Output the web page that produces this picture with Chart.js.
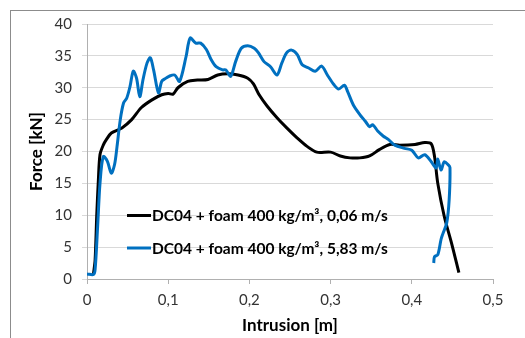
<!DOCTYPE html>
<html><head><meta charset="utf-8">
<script src="https://cdn.jsdelivr.net/npm/chart.js@4"></script>
<style>html,body{margin:0;padding:0;background:#fff;overflow:hidden}#wrap{position:relative;width:525px;height:338px}</style>
</head><body><div id="wrap"><canvas id="c" width="525" height="338"></canvas></div>
<script>
// ---- data ----
const seriesNames = ["DC04 + foam 400 kg/m³, 0,06 m/s", "DC04 + foam 400 kg/m³, 5,83 m/s"];
const xTickValues = [0, 0.1, 0.2, 0.3, 0.4, 0.5];
const yTickValues = [0, 5, 10, 15, 20, 25, 30, 35, 40];

const slowX = [0.008,0.010,0.012,0.014,0.016,0.020,0.024,0.030,0.043,0.055,0.067,0.080,0.092,0.100,0.106,0.112,0.124,0.136,0.149,0.161,0.173,0.186,0.198,0.205,0.212,0.222,0.234,0.246,0.259,0.271,0.283,0.300,0.312,0.324,0.336,0.348,0.360,0.373,0.385,0.404,0.416,0.424,0.428,0.432,0.440,0.449,0.458];
const slowY = [0.8,3,10,15.5,19.5,21,21.9,22.9,23.7,25,26.9,28.1,28.9,29.1,29.0,30,31,31.2,31.3,32,32.2,32,31.5,30.6,28.9,27.1,25.3,23.7,22.1,20.8,19.9,19.9,19.3,19.0,19.0,19.3,20.3,21.1,21.0,21.1,21.4,21.2,19.2,15,9.8,5.6,1.0];

const fastX = [0,0.008,0.010,0.013,0.016,0.020,0.025,0.030,0.034,0.037,0.041,0.045,0.049,0.053,0.057,0.061,0.065,0.069,0.074,0.078,0.082,0.088,0.092,0.096,0.101,0.108,0.114,0.122,0.127,0.134,0.140,0.147,0.153,0.159,0.167,0.171,0.177,0.183,0.190,0.198,0.206,0.211,0.218,0.226,0.234,0.240,0.246,0.252,0.259,0.265,0.273,0.281,0.289,0.296,0.304,0.310,0.317,0.321,0.328,0.336,0.343,0.348,0.352,0.358,0.365,0.371,0.379,0.391,0.400,0.408,0.416,0.424,0.430,0.432,0.436,0.440,0.445,0.447,0.446,0.443,0.438,0.436,0.432,0.428,0.427];
const fastY = [0.8,0.7,1.5,8,15,19.2,18.5,16.6,18,20.8,25,27.6,28.4,30.2,32.6,31.5,28.6,31.3,33.9,34.7,32.8,29.2,31,31.4,31.8,32,31,34.9,37.8,37,37,36,34.4,33.3,32.8,32.8,31.8,34.1,36.2,36.6,36.2,35.5,34.1,33.3,32,33.9,35.5,35.9,35.2,33.6,33.1,32.6,33.4,32,30.5,29.8,30.4,29.4,27.3,25.8,24.7,23.9,24.2,23.2,22.4,21.9,21.0,20.5,20.2,19.0,19.5,18.4,17.4,18.8,17.1,18.4,17.9,17.5,12.4,8.8,7.0,6.2,3.8,3.5,2.5];

const colors = ["#000000", "#0070C0"];
const FONT = "Lato, 'Open Sans', sans-serif";

const toPts = (xs, ys) => xs.map((x, i) => ({x, y: ys[i]}));
const fmt = v => (Math.round(v * 10) / 10).toString().replace('.', ',');

const borderPlugin = {
  id: 'outerBorder',
  beforeDraw(chart) {
    const c = chart.ctx;
    c.save();
    c.strokeStyle = '#8c8c8c';
    c.lineWidth = 1;
    c.strokeRect(10.5, 10.5, 620, 420);
    c.restore();
  }
};

const legendPlugin = {
  id: 'innerLegend',
  afterDatasetsDraw(chart) {
    const c = chart.ctx, a = chart.chartArea;
    const x0 = a.left + 40, lineLen = 24, rows = [a.top + 191.5, a.top + 224];
    c.save();
    c.font = "bold 15.5px " + FONT;
    c.textBaseline = 'middle';
    c.textAlign = 'left';
    seriesNames.forEach((name, i) => {
      c.strokeStyle = colors[i];
      c.lineWidth = 3;
      c.beginPath();
      c.moveTo(x0, rows[i]);
      c.lineTo(x0 + lineLen, rows[i]);
      c.stroke();
      c.fillStyle = '#000';
      c.fillText(name, x0 + lineLen + 1, rows[i] + 0.5);
    });
    c.restore();
  }
};

new Chart(document.getElementById('c'), {
  type: 'scatter',
  data: {
    datasets: [
      { label: seriesNames[0], data: toPts(slowX, slowY), showLine: true, borderColor: colors[0], backgroundColor: colors[0], borderWidth: 3, pointRadius: 0, tension: 0.3, order: 1 },
      { label: seriesNames[1], data: toPts(fastX, fastY), showLine: true, borderColor: colors[1], backgroundColor: colors[1], borderWidth: 3, pointRadius: 0, tension: 0.3, order: 0 }
    ]
  },
  options: {
    responsive: false,
    animation: false,
    layout: { padding: { top: 24, right: 32, left: 0, bottom: 0 } },
    plugins: { legend: { display: false }, tooltip: { enabled: false } },
    scales: {
      x: {
        type: 'linear', min: 0, max: 0.5,
        afterFit(s) { s.height = 59; },
        afterBuildTicks(s) { s.ticks = xTickValues.map(v => ({value: v})); },
        ticks: { callback: v => fmt(v), color: '#333', padding: 7, font: { family: FONT, size: 15 }, maxRotation: 0 },
        grid: { drawOnChartArea: false, drawTicks: true, tickLength: 5, tickColor: '#b0b0b0' },
        border: { display: true, color: '#b0b0b0' },
        title: { display: true, text: 'Intrusion [m]', color: '#000', font: { family: FONT, size: 17, weight: 'bold' }, padding: { top: 0, bottom: 2 } }
      },
      y: {
        type: 'linear', min: 0, max: 40,
        afterFit(s) { s.width = 87; },
        afterBuildTicks(s) { s.ticks = yTickValues.map(v => ({value: v})); },
        ticks: { callback: v => fmt(v), color: '#333', padding: 10, font: { family: FONT, size: 15 } },
        grid: { color: '#d9d9d9', tickColor: '#d9d9d9', tickLength: 5, drawTicks: true },
        border: { display: true, color: '#b0b0b0' },
        title: { display: true, text: 'Force [kN]', color: '#000', font: { family: FONT, size: 17, weight: 'bold' }, padding: { top: 26, bottom: 0 } }
      }
    }
  },
  plugins: [borderPlugin, legendPlugin]
});
</script></body></html>
